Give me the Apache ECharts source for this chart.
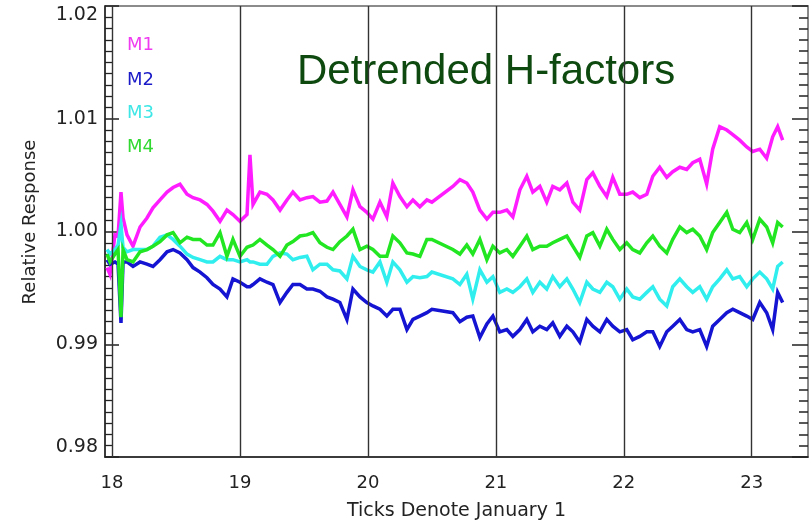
<!DOCTYPE html>
<html>
<head>
<meta charset="utf-8">
<script src="https://cdn.jsdelivr.net/npm/echarts@6/dist/echarts.min.js"></script>
<style>html,body{margin:0;padding:0;background:#fff}#c{width:810px;height:525px}</style>
</head>
<body>
<div id="c"></div>
<script>
// time axis (year-like day index), shared by all series
var times = [
17.961,17.984,18.023,18.047,18.070,18.086,18.117,18.164,18.219,18.273,
18.320,18.375,18.430,18.477,18.531,18.586,18.633,18.688,18.742,18.789,
18.844,18.898,18.945,19.000,19.055,19.078,19.102,19.156,19.211,19.258,
19.313,19.367,19.414,19.469,19.523,19.570,19.625,19.680,19.727,19.781,
19.836,19.883,19.938,19.992,20.039,20.094,20.148,20.195,20.250,20.305,
20.352,20.406,20.461,20.500,20.664,20.719,20.773,20.820,20.875,20.930,
20.977,21.031,21.086,21.133,21.188,21.242,21.289,21.344,21.398,21.445,
21.500,21.555,21.602,21.656,21.711,21.758,21.813,21.867,21.914,21.969,
22.023,22.070,22.125,22.180,22.227,22.281,22.336,22.383,22.438,22.492,
22.539,22.594,22.648,22.695,22.750,22.805,22.852,22.906,22.961,23.008,
23.063,23.117,23.164,23.203,23.242];

var m1 = [
0.9968,0.9962,0.9997,0.9996,1.0035,1.0012,0.9997,0.9987,1.0004,1.0012,
1.0021,1.0028,1.0035,1.0039,1.0042,1.0033,1.0030,1.0028,1.0024,1.0018,
1.0009,1.0019,1.0015,1.0009,1.0015,1.0068,1.0024,1.0035,1.0033,1.0028,
1.0019,1.0028,1.0035,1.0028,1.0030,1.0031,1.0026,1.0027,1.0035,1.0024,
1.0013,1.0037,1.0022,1.0017,1.0011,1.0026,1.0013,1.0043,1.0031,1.0022,
1.0028,1.0022,1.0028,1.0026,1.0040,1.0046,1.0043,1.0035,1.0019,1.0011,
1.0017,1.0017,1.0019,1.0013,1.0037,1.0049,1.0035,1.0040,1.0026,1.0040,
1.0037,1.0043,1.0026,1.0019,1.0046,1.0052,1.0040,1.0031,1.0048,1.0033,
1.0033,1.0035,1.0030,1.0033,1.0049,1.0057,1.0048,1.0053,1.0057,1.0055,
1.0061,1.0064,1.0042,1.0073,1.0093,1.0090,1.0086,1.0081,1.0075,1.0071,
1.0073,1.0065,1.0084,1.0093,1.0081];

var m2 = [
0.9975,0.9971,0.9973,0.9971,0.9919,0.9973,0.9973,0.9969,0.9973,0.9971,
0.9969,0.9975,0.9982,0.9984,0.9981,0.9975,0.9968,0.9964,0.9959,0.9953,
0.9949,0.9942,0.9958,0.9955,0.9951,0.9951,0.9953,0.9958,0.9955,0.9953,
0.9937,0.9946,0.9953,0.9953,0.9949,0.9949,0.9947,0.9942,0.9940,0.9937,
0.9922,0.9949,0.9942,0.9937,0.9934,0.9931,0.9925,0.9931,0.9931,0.9913,
0.9922,0.9925,0.9928,0.9931,0.9928,0.9920,0.9924,0.9925,0.9906,0.9918,
0.9925,0.9911,0.9913,0.9907,0.9913,0.9922,0.9911,0.9916,0.9913,0.9919,
0.9907,0.9916,0.9911,0.9902,0.9922,0.9916,0.9911,0.9922,0.9916,0.9911,
0.9913,0.9904,0.9907,0.9911,0.9911,0.9898,0.9911,0.9916,0.9922,0.9913,
0.9911,0.9913,0.9898,0.9916,0.9922,0.9928,0.9931,0.9928,0.9925,0.9922,
0.9937,0.9928,0.9913,0.9946,0.9937];

var m3 = [
0.9984,0.9980,0.9984,0.9988,1.0006,0.9986,0.9982,0.9984,0.9984,0.9984,
0.9987,0.9995,0.9997,0.9993,0.9987,0.9980,0.9977,0.9975,0.9973,0.9973,
0.9978,0.9975,0.9975,0.9973,0.9975,0.9973,0.9973,0.9971,0.9971,0.9978,
0.9981,0.9980,0.9975,0.9977,0.9978,0.9966,0.9971,0.9971,0.9966,0.9965,
0.9958,0.9978,0.9969,0.9966,0.9964,0.9973,0.9955,0.9973,0.9966,0.9955,
0.9960,0.9959,0.9960,0.9964,0.9958,0.9953,0.9962,0.9940,0.9966,0.9955,
0.9960,0.9946,0.9949,0.9946,0.9951,0.9958,0.9946,0.9955,0.9949,0.9960,
0.9951,0.9958,0.9949,0.9937,0.9955,0.9949,0.9946,0.9955,0.9951,0.9940,
0.9949,0.9942,0.9940,0.9946,0.9951,0.9940,0.9934,0.9951,0.9958,0.9951,
0.9946,0.9951,0.9940,0.9951,0.9958,0.9966,0.9958,0.9960,0.9951,0.9958,
0.9964,0.9958,0.9949,0.9969,0.9973];

var m4 = [
0.9980,0.9973,0.9980,0.9984,0.9924,0.9984,0.9975,0.9973,0.9982,0.9984,
0.9987,0.9991,0.9997,0.9999,0.9990,0.9995,0.9993,0.9993,0.9988,0.9988,
0.9999,0.9978,0.9993,0.9978,0.9986,0.9987,0.9988,0.9993,0.9988,0.9984,
0.9978,0.9988,0.9991,0.9996,0.9997,0.9999,0.9990,0.9986,0.9984,0.9991,
0.9996,1.0002,0.9984,0.9987,0.9984,0.9978,0.9978,0.9996,0.9990,0.9981,
0.9980,0.9978,0.9993,0.9993,0.9984,0.9980,0.9988,0.9980,0.9993,0.9975,
0.9987,0.9981,0.9984,0.9978,0.9987,0.9996,0.9984,0.9987,0.9987,0.9990,
0.9993,0.9996,0.9987,0.9977,0.9996,0.9999,0.9987,1.0002,0.9993,0.9984,
0.9990,0.9984,0.9981,0.9990,0.9996,0.9987,0.9981,0.9993,1.0004,0.9999,
1.0002,0.9996,0.9984,0.9999,1.0008,1.0017,1.0002,0.9999,1.0008,0.9993,
1.0011,1.0004,0.9990,1.0008,1.0004];

var seriesNames = ['M1','M2','M3','M4'];
var seriesColors = ['#ff1cff','#1414d2','#30eeee','#22e622'];
var tickDays = [18,19,20,21,22,23];

function pairs(v){ return times.map(function(t,i){ return [t, v[i]]; }); }
var vals = [m1,m2,m3,m4];

var chart = echarts.init(document.getElementById('c'), null, {renderer:'canvas'});
var font = 'DejaVu Sans';
var series = vals.map(function(v,i){
  return {
    name: seriesNames[i], type:'line', data: pairs(v), showSymbol:false,
    symbol:'none', lineStyle:{color:seriesColors[i], width:3.5, join:'miter'}, itemStyle:{color:seriesColors[i]},
    animation:false, z:3
  };
});
series.unshift({
  name:'ticks', type:'line', data:[], animation:false, silent:true, z:2,
  markLine:{
    silent:true, symbol:['none','none'], animation:false,
    label:{show:false},
    lineStyle:{color:'#333', width:1.4, type:'solid'},
    data: tickDays.map(function(d){ return {xAxis:d}; })
  }
});

chart.setOption({
  backgroundColor:'#fff',
  animation:false,
  grid:{left:105, right:2, top:6, bottom:68, outerBoundsMode:'none', containLabel:false,
    show:true, borderColor:'#666', borderWidth:1.5, backgroundColor:'transparent'},
  xAxis:{
    type:'value', min:17.945, max:23.44,
    name:'Ticks Denote January 1', nameLocation:'middle', nameGap:45,
    nameTextStyle:{fontFamily:font, fontSize:19, color:'#222'},
    axisLine:{show:true, onZero:false, lineStyle:{color:'#222', width:1.5}},
    axisTick:{show:false, customValues:tickDays},
    axisLabel:{customValues:tickDays, fontFamily:font, fontSize:18, color:'#222', margin:17,
      formatter:function(v){ return String(Math.round(v)); }},
    splitLine:{show:false}
  },
  yAxis:[{
    type:'value', min:0.98, max:1.02, interval:0.01, position:'left',
    axisLine:{show:true, lineStyle:{color:'#222', width:1.5}},
    axisTick:{show:true, inside:true, length:14, lineStyle:{color:'#222', width:1.5}},
    minorTick:{show:true, splitNumber:10, length:7, lineStyle:{color:'#222', width:1.3}},
    axisLabel:{fontFamily:font, fontSize:19, color:'#222', margin:7,
      verticalAlignMaxLabel:'top', verticalAlignMinLabel:'bottom',
      formatter:function(v){ return v.toFixed(2); }},
    splitLine:{show:false}
  },{
    type:'value', min:0.98, max:1.02, interval:0.01, position:'right',
    axisLine:{show:true, lineStyle:{color:'#888', width:1}},
    axisTick:{show:true, inside:true, length:16, lineStyle:{color:'#222', width:1.5}},
    minorTick:{show:true, splitNumber:10, length:9, lineStyle:{color:'#222', width:1.5}},
    axisLabel:{show:false},
    splitLine:{show:false}
  }],
  series: series,
  graphic:[
    {type:'text', x:30, y:222, rotation:Math.PI/2,
      style:{text:'Relative Response', fontFamily:font, fontSize:18, fill:'#222', align:'center', verticalAlign:'middle'}},
    {type:'text', x:297, y:72,
      style:{text:'Detrended H-factors', fontFamily:'Liberation Sans', fontSize:42, fill:'#0e4a10', align:'left', verticalAlign:'middle'}},
    {type:'text', x:127, y:45, style:{text:seriesNames[0], fontFamily:font, fontSize:18, fill:'#f03cf0', verticalAlign:'middle'}},
    {type:'text', x:127, y:80, style:{text:seriesNames[1], fontFamily:font, fontSize:18, fill:'#1a1ac8', verticalAlign:'middle'}},
    {type:'text', x:127, y:113, style:{text:seriesNames[2], fontFamily:font, fontSize:18, fill:'#3ee6e6', verticalAlign:'middle'}},
    {type:'text', x:127, y:147, style:{text:seriesNames[3], fontFamily:font, fontSize:18, fill:'#30d830', verticalAlign:'middle'}}
  ]
});
</script>
</body>
</html>
